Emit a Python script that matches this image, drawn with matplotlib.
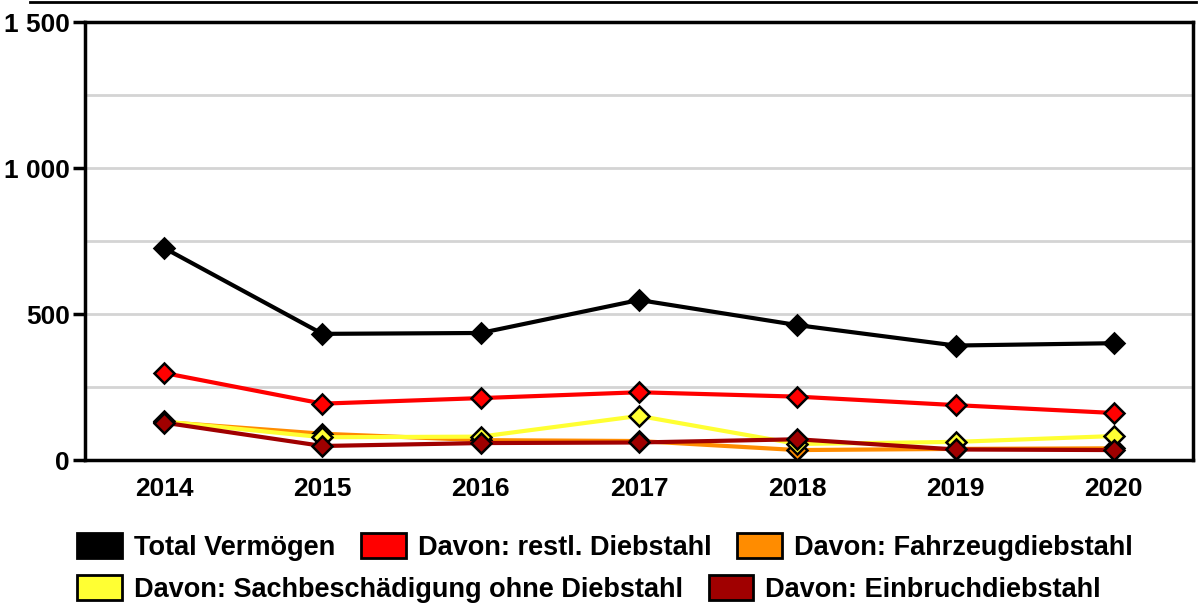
import matplotlib
matplotlib.use("Agg")
import matplotlib.pyplot as plt
from matplotlib.patches import Patch
from matplotlib.lines import Line2D

# -----------------------------------------------
# DATEN
# -----------------------------------------------
years = [2014, 2015, 2016, 2017, 2018, 2019, 2020]
total = [726, 432, 435, 548, 462, 392, 400]
restl = [298, 193, 212, 232, 217, 188, 161]
fahrzeug = [130, 90, 68, 65, 34, 38, 40]
sachbesch = [132, 78, 80, 151, 55, 62, 82]
einbruch = [128, 48, 58, 60, 71, 36, 34]

labels = ["Total Vermögen", "Davon: restl. Diebstahl", "Davon: Fahrzeugdiebstahl",
          "Davon: Sachbeschädigung ohne Diebstahl", "Davon: Einbruchdiebstahl"]
colors = ["#000000", "#ff0000", "#ff8c00", "#ffff33", "#a00000"]
series = [total, restl, fahrzeug, sachbesch, einbruch]

yticks = [0, 500, 1000, 1500]
ytick_labels = ["0", "500", "1 000", "1 500"]

plt.rcParams["font.family"] = ["Liberation Sans", "DejaVu Sans"]
plt.rcParams["font.weight"] = "bold"

FS = 19
FS_LEG = 19.5

W, H = 1198, 607
fig = plt.figure(figsize=(W / 100, H / 100), dpi=100)
ax = fig.add_axes([85 / W, 1 - 460 / H, (1193 - 85) / W, (460 - 22) / H])

for v in [250, 500, 750, 1000, 1250]:
    ax.axhline(v, color="#d4d4d4", lw=2, zorder=0)

for vals, col, lab in zip(series, colors, labels):
    ax.plot(years, vals, color=col, lw=3, marker="D", ms=10,
            mfc=col, mec="black", mew=1.8, label=lab, zorder=3)

ax.set_xlim(2013.5, 2020.5)
ax.set_ylim(0, 1500)
ax.set_xticks(years)
ax.set_xticklabels([str(y) for y in years], fontsize=FS, fontweight="bold")
ax.set_yticks(yticks)
ax.set_yticklabels(ytick_labels, fontsize=FS, fontweight="bold")
ax.tick_params(axis="x", length=0, pad=12)
ax.tick_params(axis="y", length=9, width=2.5, pad=2)
for s in ax.spines.values():
    s.set_linewidth(2.5)

# obere Linie
fig.add_artist(Line2D([30 / W, 1196 / W], [1 - 1.5 / H, 1 - 1.5 / H],
                      color="black", lw=2))

# Legende: zwei Zeilen
def make_handles(idx):
    return [Patch(facecolor=colors[i], edgecolor="black", lw=2) for i in idx], [labels[i] for i in idx]

for idx, ypos in [([0, 1, 2], 1 - 547 / H), ([3, 4], 1 - 589 / H)]:
    h, l = make_handles(idx)
    leg = fig.legend(h, l, loc="center left", bbox_to_anchor=(77 / W, ypos),
                     ncol=len(idx), frameon=False, fontsize=FS_LEG,
                     handlelength=1.65, handleheight=1.05, handletextpad=0.45,
                     columnspacing=0.95, borderaxespad=0, borderpad=0)
    for t in leg.get_texts():
        t.set_fontweight("bold")

fig.savefig("out.png", dpi=100)
